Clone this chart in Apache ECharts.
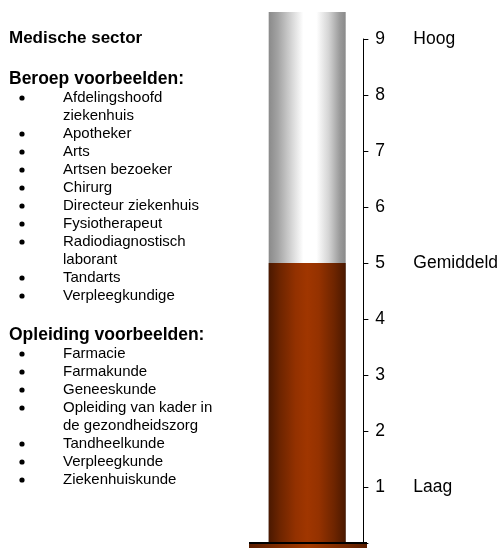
<!DOCTYPE html>
<html>
<head>
<meta charset="utf-8">
<script src="https://cdn.jsdelivr.net/npm/echarts@6/dist/echarts.min.js"></script>
<style>
html,body{margin:0;padding:0;background:#fff;}
#chart{width:501px;height:548px;}
</style>
</head>
<body>
<div id="chart"></div>
<script>
// ---- data ----
var categories = ['Medische sector'];
var scaleMax = [9.48];          // full height of the tube
var levelValue = [5];           // filled level
var tickValues = [1, 2, 3, 4, 5, 6, 7, 8, 9];
var levelTickValues = [1, 5, 9];
var levelTickNames = ['Laag', 'Gemiddeld', 'Hoog'];
var titleText = 'Medische sector';
var beroepHeading = 'Beroep voorbeelden:';
var beroepItems = [
  ['Afdelingshoofd', 'ziekenhuis'],
  ['Apotheker'],
  ['Arts'],
  ['Artsen bezoeker'],
  ['Chirurg'],
  ['Directeur ziekenhuis'],
  ['Fysiotherapeut'],
  ['Radiodiagnostisch', 'laborant'],
  ['Tandarts'],
  ['Verpleegkundige']
];
var opleidingHeading = 'Opleiding voorbeelden:';
var opleidingItems = [
  ['Farmacie'],
  ['Farmakunde'],
  ['Geneeskunde'],
  ['Opleiding van kader in', 'de gezondheidszorg'],
  ['Tandheelkunde'],
  ['Verpleegkunde'],
  ['Ziekenhuiskunde']
];

// ---- build ----
var FONT = '"Liberation Sans", Arial, sans-serif';
var graphics = [];
function addText(str, x, y, size, bold) {
  graphics.push({
    type: 'text', x: x, y: y,
    style: { text: str, font: (bold ? 'bold ' : '') + size + 'px ' + FONT, fill: '#000',
             textVerticalAlign: 'middle', verticalAlign: 'middle' }
  });
}
function addBullet(y) {
  graphics.push({ type: 'circle', shape: { cx: 22, cy: y, r: 2.6 }, style: { fill: '#000' } });
}
addText(titleText, 9, 38, 17, true);
addText(beroepHeading, 9, 79, 17.5, true);
var y = 98, LH = 18;
beroepItems.forEach(function (lines) {
  lines.forEach(function (ln, i) {
    if (i === 0) addBullet(y);
    addText(ln, 63, y, 15, false);
    y += LH;
  });
});
addText(opleidingHeading, 9, 335, 17.5, true);
y = 354;
opleidingItems.forEach(function (lines) {
  lines.forEach(function (ln, i) {
    if (i === 0) addBullet(y);
    addText(ln, 63, y, 15, false);
    y += LH;
  });
});
// base plate under the tube
graphics.push({
  type: 'rect', shape: { x: 249, y: 544, width: 118, height: 4 },
  style: { fill: new echarts.graphic.LinearGradient(0, 0, 1, 0, [
    { offset: 0, color: '#5a1e00' }, { offset: 0.5, color: '#a33a00' }, { offset: 1, color: '#5a1e00' }]) },
  z: 10
});
graphics.push({
  type: 'rect', shape: { x: 249, y: 542, width: 118, height: 2 },
  style: { fill: '#000' }, z: 11
});

var grayGrad = new echarts.graphic.LinearGradient(0, 0, 1, 0, [
  { offset: 0, color: '#8a8a8a' }, { offset: 0.12, color: '#a3a3a3' },
  { offset: 0.3, color: '#d6d6d6' }, { offset: 0.45, color: '#ffffff' },
  { offset: 0.62, color: '#ffffff' }, { offset: 0.78, color: '#d4d4d4' },
  { offset: 0.92, color: '#9c9c9c' }, { offset: 1, color: '#8a8a8a' }]);
var brownGrad = new echarts.graphic.LinearGradient(0, 0, 1, 0, [
  { offset: 0, color: '#4a1800' }, { offset: 0.15, color: '#6e2500' },
  { offset: 0.35, color: '#933100' }, { offset: 0.5, color: '#a03600' },
  { offset: 0.65, color: '#953200' }, { offset: 0.85, color: '#6e2500' },
  { offset: 1, color: '#4a1800' }]);

var chart = echarts.init(document.getElementById('chart'), null, { renderer: 'canvas' });
chart.setOption({
  animation: false,
  grid: { left: 251, right: 135, top: 39, bottom: 5 },
  xAxis: {
    type: 'category', data: categories,
    axisLine: { show: false },
    axisTick: { show: false }, axisLabel: { show: false }, splitLine: { show: false }
  },
  yAxis: {
    type: 'value', position: 'right', min: 0, max: 9, interval: 1,
    axisLine: { show: true, lineStyle: { color: '#000', width: 1 } },
    axisTick: { show: true, inside: false, length: 5, lineStyle: { color: '#000' } },
    splitLine: { show: false },
    axisLabel: {
      margin: 12, align: 'left', color: '#000', fontFamily: FONT, fontSize: 17.5,
      formatter: function (v) {
        if (tickValues.indexOf(v) < 0) return '';
        var k = levelTickValues.indexOf(v);
        return '{n|' + v + '}' + (k >= 0 ? '{t|' + levelTickNames[k] + '}' : '');
      },
      rich: {
        n: { width: 38, fontSize: 17.5, fontFamily: FONT, color: '#000' },
        t: { fontSize: 17.5, fontFamily: FONT, color: '#000' }
      }
    }
  },
  series: [
    { type: 'bar', data: scaleMax, barWidth: 77, barGap: '-100%', clip: false, z: 1,
      itemStyle: { color: grayGrad }, silent: true },
    { type: 'bar', data: levelValue, barWidth: 77, clip: false, z: 2,
      itemStyle: { color: brownGrad }, silent: true }
  ],
  graphic: graphics
});
</script>
</body>
</html>
